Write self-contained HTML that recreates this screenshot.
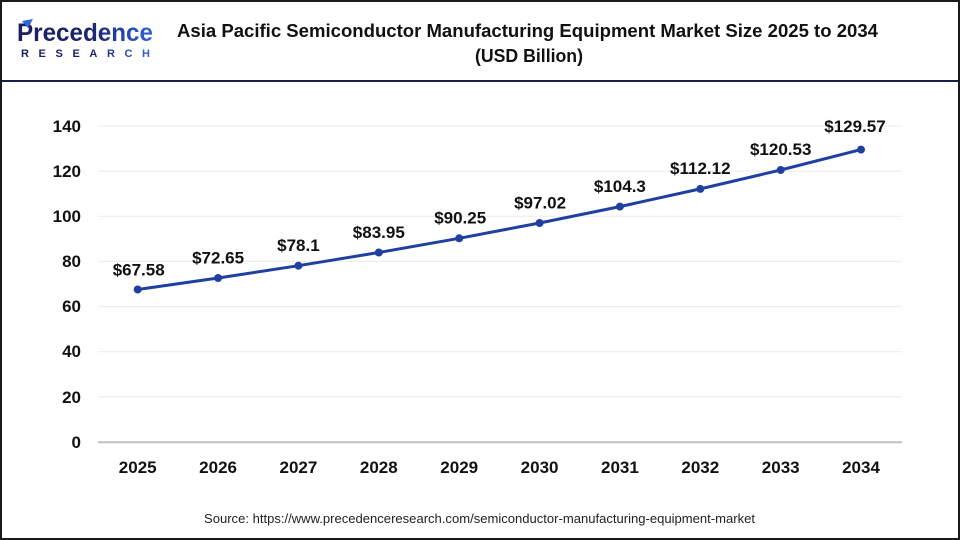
<!DOCTYPE html>
<html>
<head>
<meta charset="utf-8">
<style>
  html, body { margin:0; padding:0; background:#fff; }
  svg { display:block; }
  text { font-family: "Liberation Sans", "DejaVu Sans", sans-serif; }
</style>
</head>
<body>
<svg width="960" height="540" viewBox="0 0 960 540" xmlns="http://www.w3.org/2000/svg">
  <defs>
    <linearGradient id="lg" x1="0" y1="0" x2="1" y2="0">
      <stop offset="0" stop-color="#1b1f5e"/>
      <stop offset="0.55" stop-color="#1c2570"/>
      <stop offset="1" stop-color="#2f63db"/>
    </linearGradient>
  </defs>
  <rect x="0" y="0" width="960" height="540" fill="#fff"/>
  <!-- outer border -->
  <rect x="1" y="1" width="958" height="538" fill="none" stroke="#1a1a1a" stroke-width="2"/>
  <!-- header separator -->
  <rect x="2" y="80" width="956" height="2" fill="#1a1f4e"/>

  <!-- logo -->
  <text x="17" y="41" font-size="25" font-weight="bold" fill="url(#lg)" textLength="136" lengthAdjust="spacingAndGlyphs">Precedence</text>
  <path d="M22 21 L33 19 L28 28 Z" fill="#2f63db"/>
  <text x="21" y="57" font-size="11" font-weight="bold" fill="url(#lg)" textLength="129" lengthAdjust="spacing">RESEARCH</text>

  <!-- title -->
  <text x="177" y="37" font-size="18" font-weight="bold" fill="#111" textLength="701" lengthAdjust="spacingAndGlyphs">Asia Pacific Semiconductor  Manufacturing  Equipment Market Size 2025 to 2034</text>
  <text x="475" y="62" font-size="18" font-weight="bold" fill="#111" textLength="108" lengthAdjust="spacingAndGlyphs">(USD Billion)</text>

  <!-- gridlines -->
  <g stroke="#ebebeb" stroke-width="1">
    <line x1="98" y1="126" x2="902" y2="126"/>
    <line x1="98" y1="171.1" x2="902" y2="171.1"/>
    <line x1="98" y1="216.3" x2="902" y2="216.3"/>
    <line x1="98" y1="261.4" x2="902" y2="261.4"/>
    <line x1="98" y1="306.6" x2="902" y2="306.6"/>
    <line x1="98" y1="351.7" x2="902" y2="351.7"/>
    <line x1="98" y1="396.9" x2="902" y2="396.9"/>
  </g>
  <!-- axis -->
  <line x1="98" y1="442.3" x2="902" y2="442.3" stroke="#bfbfbf" stroke-width="2"/>

  <!-- y tick labels -->
  <g font-size="17" font-weight="bold" fill="#111" text-anchor="end">
    <text x="81" y="132">140</text>
    <text x="81" y="177">120</text>
    <text x="81" y="222">100</text>
    <text x="81" y="267">80</text>
    <text x="81" y="312">60</text>
    <text x="81" y="357">40</text>
    <text x="81" y="403">20</text>
    <text x="81" y="448">0</text>
  </g>

  <!-- x tick labels -->
  <g font-size="17" font-weight="bold" fill="#111" text-anchor="middle">
    <text x="137.7" y="473">2025</text>
    <text x="218.1" y="473">2026</text>
    <text x="298.4" y="473">2027</text>
    <text x="378.8" y="473">2028</text>
    <text x="459.2" y="473">2029</text>
    <text x="539.6" y="473">2030</text>
    <text x="619.9" y="473">2031</text>
    <text x="700.3" y="473">2032</text>
    <text x="780.7" y="473">2033</text>
    <text x="861.0" y="473">2034</text>
  </g>

  <!-- series -->
  <polyline fill="none" stroke="#1f40a0" stroke-width="3" stroke-linejoin="round"
    points="137.7,289.5 218.1,278.0 298.4,265.7 378.8,252.5 459.2,238.3 539.6,223.0 619.9,206.6 700.3,188.9 780.7,170.0 861.0,149.6"/>
  <g fill="#1f40a0">
    <circle cx="137.7" cy="289.5" r="4"/>
    <circle cx="218.1" cy="278.0" r="4"/>
    <circle cx="298.4" cy="265.7" r="4"/>
    <circle cx="378.8" cy="252.5" r="4"/>
    <circle cx="459.2" cy="238.3" r="4"/>
    <circle cx="539.6" cy="223.0" r="4"/>
    <circle cx="619.9" cy="206.6" r="4"/>
    <circle cx="700.3" cy="188.9" r="4"/>
    <circle cx="780.7" cy="170.0" r="4"/>
    <circle cx="861.0" cy="149.6" r="4"/>
  </g>

  <!-- data labels -->
  <g font-size="17" font-weight="bold" fill="#111" text-anchor="middle">
    <text x="138.7" y="275.5">$67.58</text>
    <text x="218.1" y="263.5">$72.65</text>
    <text x="298.4" y="251">$78.1</text>
    <text x="378.8" y="238">$83.95</text>
    <text x="460.2" y="223.5">$90.25</text>
    <text x="540.1" y="208.5">$97.02</text>
    <text x="619.9" y="192">$104.3</text>
    <text x="700.3" y="174">$112.12</text>
    <text x="780.7" y="155">$120.53</text>
    <text x="855" y="132">$129.57</text>
  </g>

  <!-- source -->
  <text x="204" y="523" font-size="12.5" fill="#222" textLength="551" lengthAdjust="spacingAndGlyphs">Source: https://www.precedenceresearch.com/semiconductor-manufacturing-equipment-market</text>
</svg>
</body>
</html>
